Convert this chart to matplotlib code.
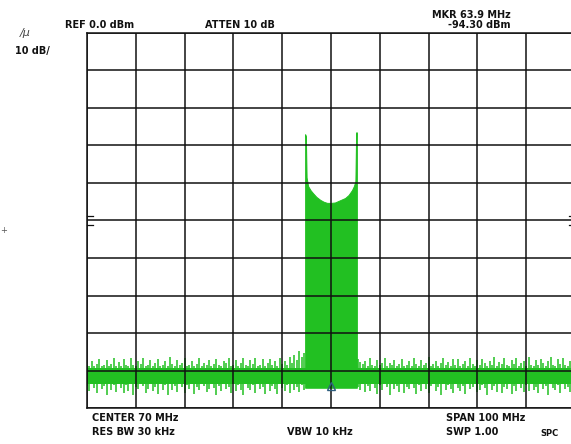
import matplotlib
matplotlib.use('Agg')
import matplotlib.pyplot as plt
import numpy as np

# spectrum analyser screen: 20..120 MHz, 0 .. -100 dBm
f_start = 20.0
f_stop = 120.0
ref_level = 0.0
bottom_level = -100.0

# signal block (MHz, dBm)
sig_freq = [64.7, 64.85, 65.0, 65.3, 65.8, 66.3, 67.0, 67.8, 68.5, 69.2, 70.0,
            70.8, 71.5, 72.2, 72.9, 73.6, 74.3, 74.7, 75.0, 75.15, 75.3]
sig_level = [-27.0, -27.5, -38.5, -40.8, -41.9, -42.7, -43.7, -44.5, -45.0, -45.3, -45.3,
             -45.2, -44.8, -44.4, -44.0, -43.2, -41.9, -40.8, -39.5, -26.5, -26.5]
sig_floor = -94.6

# noise floor, solid part and per-sample peaks/dips (0.5 MHz steps)
noise_core_top = -89.3
noise_core_bottom = -93.6

upper_left = [-88.6,-88.9,-87.4,-88.7,-88.2,-86.9,-88.8,-88.5,-87.1,-88.9,
              -88.3,-86.6,-88.7,-87.8,-88.9,-87.0,-88.4,-88.8,-86.8,-88.6,
              -88.9,-87.5,-88.2,-86.7,-88.8,-88.5,-87.3,-88.9,-88.1,-86.9,
              -88.7,-88.4,-87.6,-88.9,-86.5,-88.3,-88.8,-87.2,-88.6,-88.0,
              -86.8,-88.9,-88.4,-87.4,-88.7,-88.2,-86.6,-88.8,-87.9,-88.5,
              -87.1,-88.9,-88.3,-86.9,-88.6,-88.8,-87.5,-88.1,-86.7,-88.9,
              -88.4,-87.2,-88.7,-88.0,-86.8,-88.6,-88.9,-87.3,-88.2,-86.6,
              -88.8,-88.4,-87.0,-88.7,-88.1,-86.9,-88.5,-87.6,-88.8,-86.7,
              -88.3,-87.4,-88.6,-86.4,-87.9,-85.8,-87.2,-84.9,-86.5,-85.3]
lower_left = [-94.2,-95.6,-93.4,-94.7,-96.1,-93.7,-94.9,-94.0,-96.4,-93.5,
              -95.2,-93.9,-95.7,-93.3,-94.6,-96.0,-93.8,-95.4,-93.6,-96.5,
              -94.3,-95.0,-93.4,-94.1,-95.9,-94.8,-93.7,-95.5,-94.4,-96.2,
              -93.5,-95.1,-93.9,-96.6,-93.6,-95.3,-94.2,-95.7,-93.4,-94.5,
              -96.0,-93.8,-94.9,-93.7,-96.3,-94.4,-95.2,-93.5,-94.0,-95.8,
              -95.0,-93.6,-94.7,-96.4,-94.1,-95.4,-93.4,-94.8,-94.3,-96.1,
              -93.7,-95.6,-93.9,-95.1,-96.5,-93.5,-94.6,-95.3,-93.8,-95.9,
              -93.6,-95.0,-94.4,-96.2,-93.7,-95.5,-94.0,-94.8,-96.3,-93.4,
              -94.7,-95.4,-93.9,-96.0,-93.6,-95.1,-94.3,-95.7,-93.8,-95.2]
upper_right = [-86.9,-87.8,-88.2,-87.5,-88.7,-86.8,-88.4,-88.9,-87.3,-88.6,
               -88.1,-86.6,-88.8,-87.9,-88.5,-87.1,-88.9,-88.3,-86.9,-88.7,
               -88.4,-87.6,-88.9,-86.7,-88.2,-88.8,-87.2,-88.5,-88.0,-86.5,
               -88.7,-88.3,-87.4,-88.9,-88.1,-86.8,-88.6,-87.7,-88.8,-87.0,
               -88.4,-86.9,-88.7,-88.2,-87.5,-88.9,-86.6,-88.3,-88.8,-87.3,
               -88.5,-86.9,-88.1,-88.7,-87.6,-88.4,-86.4,-88.8,-87.8,-88.2,
               -86.8,-88.6,-88.9,-87.1,-88.3,-86.7,-88.7,-88.0,-87.4,-88.8,
               -86.5,-88.4,-88.9,-87.2,-88.6,-86.9,-88.1,-88.7,-87.5,-86.3,
               -88.5,-88.8,-87.0,-88.3,-86.8,-88.6,-88.9,-87.6,-88.2,-86.9]
lower_right = [-94.4,-95.1,-93.6,-95.8,-94.0,-95.5,-93.4,-94.7,-96.2,-93.9,
               -95.3,-93.7,-94.5,-96.4,-93.5,-95.0,-94.2,-95.7,-93.6,-96.0,
               -94.3,-94.8,-93.4,-94.6,-96.3,-93.8,-95.4,-93.7,-94.9,-96.1,
               -94.1,-93.5,-95.6,-94.4,-96.5,-93.6,-95.2,-93.9,-94.8,-95.9,
               -93.4,-94.7,-95.5,-94.0,-96.2,-93.7,-95.0,-94.3,-93.5,-95.8,
               -95.3,-93.8,-94.6,-96.4,-93.6,-95.1,-94.2,-95.7,-93.4,-96.0,
               -94.5,-94.9,-93.7,-96.3,-94.1,-95.4,-93.5,-94.7,-95.8,-93.9,
               -95.6,-93.6,-95.2,-94.4,-96.1,-93.7,-94.8,-94.0,-96.5,-93.4,
               -94.6,-95.3,-93.8,-95.9,-93.5,-95.0,-94.3,-95.7,-93.6,-95.1]
freq_left = np.arange(20.0, 64.51, 0.5)
freq_right = np.arange(75.5, 120.01, 0.5)

mkr_freq = 70.0
mkr_level = -94.0

green = '#22c022'
W, H = 571, 444

fig = plt.figure(figsize=(W/100, H/100), dpi=100)
fig.patch.set_facecolor('white')
# grid box 87..575 px wide, 33..408 px tall
ax = fig.add_axes([87/W, 1-408/H, 488/W, 375/H])

ax.fill_between([f_start, f_stop], noise_core_bottom, noise_core_top, color=green, lw=0)
ax.vlines(freq_left, lower_left, upper_left, colors=green, lw=1.1)
ax.vlines(freq_right, lower_right, upper_right, colors=green, lw=1.1)
ax.fill_between(sig_freq, sig_floor, sig_level, color=green, lw=0.7, edgecolor=green)

ax.plot([mkr_freq], [mkr_level], marker='^', ms=6, mfc='none', mec='#2f5f7f', mew=1.0, zorder=5)

ax.set_xlim(f_start, f_stop)
ax.set_ylim(bottom_level, ref_level)
ax.set_xticks(np.arange(f_start, f_stop+1, 10))
ax.set_yticks(np.arange(bottom_level, ref_level+1, 10))
ax.tick_params(length=0, labelbottom=False, labelleft=False)
ax.set_axisbelow(False)
ax.grid(True, color='#111111', lw=1.1)
for s in ax.spines.values():
    s.set_color('#111111')
    s.set_linewidth(1.1)

# centre-line tick marks on the edges
for yy in (-48.8, -51.2):
    ax.plot([0, 0.012], [yy, yy], color='#111111', lw=0.9, transform=ax.get_yaxis_transform(), clip_on=False)
    ax.plot([0.988, 1.0], [yy, yy], color='#111111', lw=0.9, transform=ax.get_yaxis_transform(), clip_on=False)

def put(x, y, s, ha='left', size=7):
    fig.text(x/W, 1-y/H, s, ha=ha, va='center', fontsize=size, fontweight='bold', color='#111111')

fig.text(20/W, 1-33/H, '/\u03bc', fontsize=8, style='italic', color='#444444', va='center')
put(15, 51, '10 dB/')
put(65, 25, 'REF 0.0 dBm')
put(205, 25, 'ATTEN 10 dB')
put(511, 15, 'MKR 63.9 MHz', ha='right')
put(511, 25, '-94.30 dBm', ha='right')
put(92, 418, 'CENTER 70 MHz')
put(92, 432, 'RES BW 30 kHz')
put(287, 432, 'VBW 10 kHz')
put(446, 418, 'SPAN 100 MHz')
put(446, 432, 'SWP 1.00')
put(540, 433, 'SPC', size=6)
fig.text(0, 1-230/H, '+', fontsize=6, color='#555555', va='center')

fig.savefig('out.png', dpi=100)
